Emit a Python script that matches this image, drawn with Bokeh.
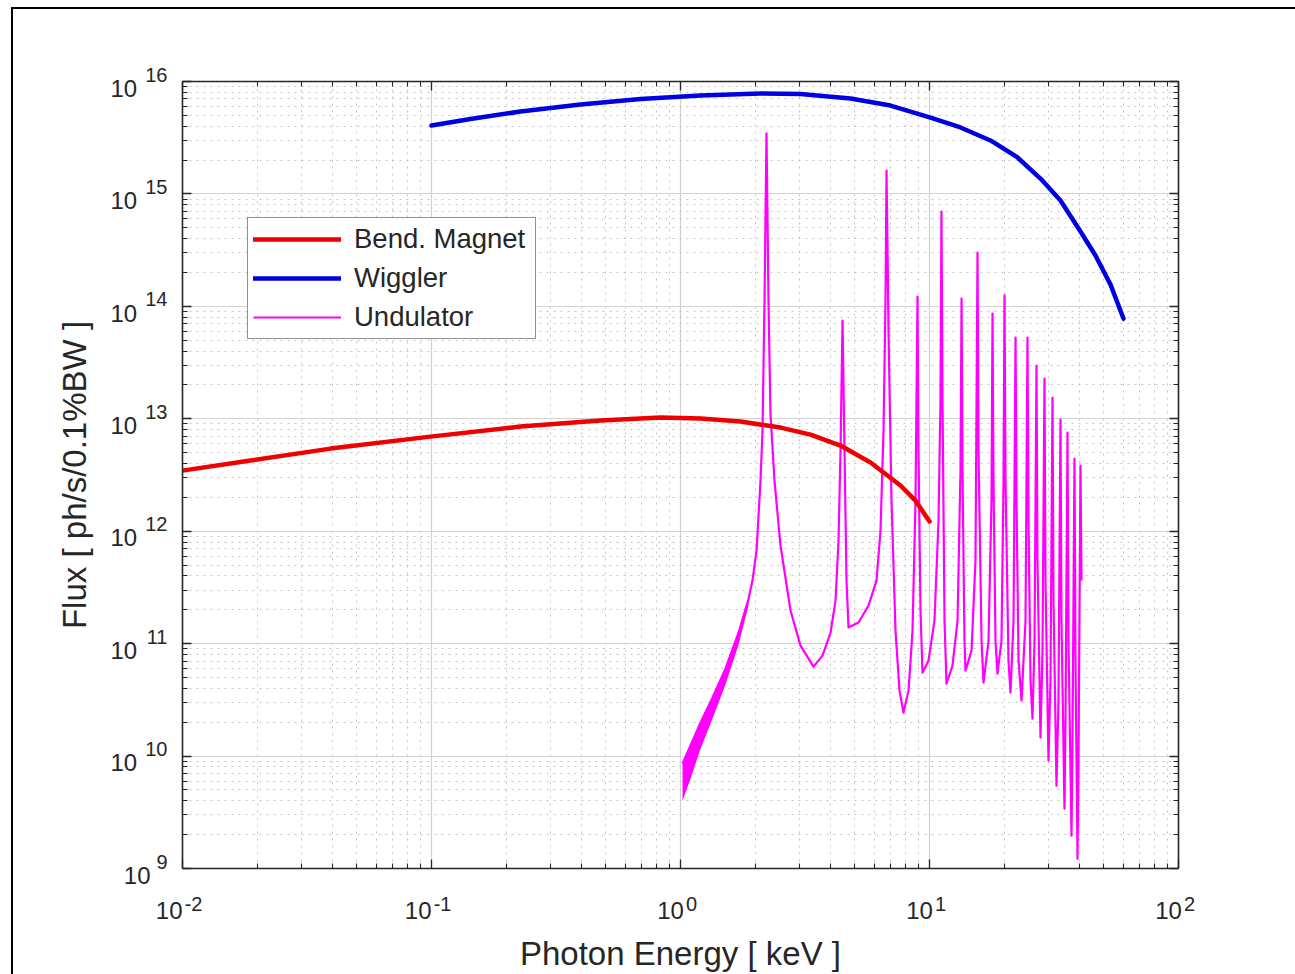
from bokeh.plotting import figure
from bokeh.models import (LogAxis, FixedTicker, Legend, LegendItem,
                          CustomJSTickFormatter)
from bokeh.embed import file_html
from bokeh.resources import INLINE

# ---------------- data ----------------
bm_energy = [0.01, 0.01875, 0.0393, 0.0991, 0.2277, 0.4772, 0.831, 1.203,
             1.742, 2.521, 3.328, 4.392, 5.794, 7.646, 8.786, 10.0]
bm_flux = [3.46e12, 4.25e12, 5.43e12, 6.94e12, 8.52e12, 9.64e12, 1.025e13,
           1.004e13, 9.44e12, 8.35e12, 7.23e12, 5.78e12, 4.08e12, 2.55e12,
           1.87e12, 1.22e12]

wig_energy = [0.1, 0.1434, 0.2277, 0.3967, 0.691, 1.203, 2.096, 3.033, 4.816,
              6.973, 10.09, 13.32, 17.58, 22.57, 27.91, 33.58, 40.40, 46.41,
              53.33, 60.13]
wig_flux = [4.06e15, 4.64e15, 5.41e15, 6.24e15, 6.99e15, 7.51e15, 7.82e15,
            7.74e15, 7.06e15, 6.11e15, 4.78e15, 3.90e15, 2.99e15, 2.11e15,
            1.37e15, 8.74e14, 4.63e14, 2.83e14, 1.56e14, 7.79e13]

und_energy = [1.019, 1.097, 1.203, 1.344, 1.516, 1.710, 1.876, 1.946, 2.020,
              2.096, 2.135, 2.175, 2.215, 2.256, 2.298, 2.385, 2.521, 2.766,
              3.033, 3.421, 3.718, 4.004, 4.194, 4.311, 4.392, 4.474, 4.557,
              4.642, 4.729, 5.186, 5.689, 6.126, 6.357, 6.536, 6.658, 6.720,
              6.845, 7.038, 7.303, 7.578, 7.864, 8.236, 8.546, 8.786, 8.950,
              9.033, 9.201, 9.374, 9.908, 10.47, 10.87, 11.07, 11.17, 11.28,
              11.49, 11.70, 12.37, 12.96, 13.32, 13.45, 13.57, 13.82, 13.95,
              14.75, 15.30, 15.59, 15.73, 16.18, 16.48, 17.26, 17.74, 17.91,
              18.07, 18.41, 18.75, 19.46, 19.83, 20.01, 20.20, 20.76, 21.15,
              21.75, 22.16, 22.36, 22.78, 23.42, 24.30, 24.75, 24.98, 25.45,
              25.92, 26.41, 26.90, 27.14, 27.91, 28.43, 28.96, 29.23, 30.05,
              30.61, 31.19, 31.48, 32.36, 32.96, 33.58, 33.89, 34.84, 35.17,
              35.83, 36.16, 37.18, 37.52, 38.22, 38.58, 39.30, 39.66, 40.40,
              40.78]
und_flux = [8.56e9, 1.24e10, 1.98e10, 3.31e10, 5.99e10, 1.25e11, 2.51e11,
            3.64e11, 6.72e11, 2.82e12, 7.85e12, 1.13e14, 3.45e15, 1.13e14,
            1.11e13, 2.82e12, 7.44e11, 1.97e11, 9.60e10, 6.24e10, 7.82e10,
            1.25e11, 2.41e11, 8.25e11, 5.21e12, 7.47e13, 5.21e12, 3.64e11,
            1.39e11, 1.54e11, 2.18e11, 3.64e11, 1.01e12, 7.85e12, 1.13e14,
            1.61e15, 6.09e13, 1.87e12, 1.30e11, 3.82e10, 2.43e10, 3.82e10,
            1.30e11, 1.87e12, 1.22e14, 5.21e12, 1.97e11, 5.52e10, 7.06e10,
            1.60e11, 1.24e12, 1.45e13, 6.97e14, 1.45e13, 1.60e11, 4.41e10,
            6.37e10, 1.60e11, 3.46e12, 1.17e14, 3.46e12, 1.06e11, 5.75e10,
            8.66e10, 5.48e11, 3.01e14, 5.21e12, 1.06e11, 4.50e10, 1.06e11,
            1.87e12, 8.63e13, 2.82e12, 1.06e11, 5.41e10, 1.06e11, 2.82e12,
            1.25e14, 2.82e12, 7.06e10, 3.66e10, 1.60e11, 5.28e13, 1.87e12,
            7.06e10, 3.11e10, 1.60e11, 5.28e13, 1.24e12, 4.69e10, 2.15e10,
            1.06e11, 2.97e13, 5.48e11, 1.46e10, 8.66e10, 2.28e13, 3.64e11,
            9.10e9, 4.69e10, 1.54e13, 2.41e11, 5.45e9, 3.11e10, 9.83e12,
            1.60e11, 3.40e9, 2.06e10, 7.54e12, 1.06e11, 1.96e9, 1.37e10,
            4.42e12, 7.06e10, 1.22e9, 9.10e9, 3.83e12, 3.64e11]

# fast-oscillation band at the start of the undulator curve
und_band_energy = [1.019, 1.097, 1.203, 1.344, 1.516, 1.710, 1.876]
und_band_upper = [8.56e9, 1.24e10, 1.98e10, 3.31e10, 5.99e10, 1.25e11, 2.51e11]
und_band_lower = [4.01e9, 6.29e9, 1.16e10, 2.15e10, 4.32e10, 9.80e10, 2.18e11]

x_tick_exponents = [-2, -1, 0, 1, 2]
y_tick_exponents = [9, 10, 11, 12, 13, 14, 15, 16]
tick_base_text = "10"
x_tick_exp_text = ["-2", "-1", "0", "1", "2"]
y_tick_exp_text = ["9", "10", "11", "12", "13", "14", "15", "16"]
series_names = ["Bend. Magnet", "Wiggler", "Undulator"]
x_title = "Photon Energy [ keV ]"
y_title = "Flux [ ph/s/0.1%BW ]"

# ---------------- styling ----------------
FONT = "Liberation Sans"
TXT = "#262626"
RED = "#ee0000"
BLUE = "#0000e0"
MAG = "#ff00ff"
NB = "\u00a0"   # non-breaking space used only as horizontal padding

p = figure(width=1282, height=965, x_axis_type="log", y_axis_type="log",
           x_range=(1e-2, 1e2), y_range=(1e9, 1e16),
           output_backend="svg", toolbar_location=None,
           min_border_left=169, min_border_right=117,
           min_border_top=72, min_border_bottom=106)
p.margin = (9, 0, 0, 13)
p.styles = {"outline": "2px solid black"}
p.outline_line_color = None
p.background_fill_color = "white"
p.border_fill_color = "white"

# box axes (top/right) and second "label" axes (exponent / base)
p.add_layout(LogAxis(), "above")
p.add_layout(LogAxis(), "right")
p.add_layout(LogAxis(), "below")
p.add_layout(LogAxis(), "left")

x_major = [10.0 ** k for k in x_tick_exponents]
x_minor = [m * 10.0 ** k for k in x_tick_exponents[:-1] for m in range(2, 10)]
y_major = [10.0 ** k for k in y_tick_exponents]
y_minor = [m * 10.0 ** k for k in y_tick_exponents[:-1] for m in range(2, 10)]

blank = CustomJSTickFormatter(code="return ''")
fmt_code = "const e = Math.round(Math.log10(tick)); return labels[e - emin];"


def fmt(labels, emin):
    return CustomJSTickFormatter(args=dict(labels=labels, emin=emin), code=fmt_code)


for axes, maj, mnr in ((p.xaxis, x_major, x_minor), (p.yaxis, y_major, y_minor)):
    for ax in axes:
        ax.ticker = FixedTicker(ticks=maj, minor_ticks=mnr)
        ax.formatter = blank
        ax.major_label_text_font_size = "0px"
        ax.major_label_standoff = 0
        ax.major_tick_in = 9
        ax.major_tick_out = 0
        ax.minor_tick_in = 5
        ax.minor_tick_out = 0
        ax.major_tick_line_color = TXT
        ax.minor_tick_line_color = TXT
        ax.major_tick_line_width = 1.3
        ax.minor_tick_line_width = 1.1
        ax.axis_line_color = TXT
        ax.axis_line_width = 1.6
        ax.major_label_text_font = FONT
        ax.major_label_text_color = TXT

for g in (p.xgrid, p.ygrid):
    g.grid_line_color = "#d2d2d2"
    g.grid_line_width = 1.2
    g.minor_grid_line_color = "#c4c4c4"
    g.minor_grid_line_dash = "2 5"
    g.minor_grid_line_width = 1.0


def label_only(ax):
    ax.axis_line_color = None
    ax.major_tick_line_color = None
    ax.minor_tick_line_color = None
    ax.major_tick_in = 0
    ax.minor_tick_in = 0


# ---- x axis: "10" on the frame axis, raised exponent on the second axis ----
xa, xb = p.below[0], p.below[1]
xa.formatter = fmt([tick_base_text + NB * (4 if k < 0 else 3) for k in x_tick_exponents],
                   x_tick_exponents[0])
xa.major_label_text_font_size = "24px"
xa.major_label_standoff = 28
label_only(xb)
xb.formatter = fmt([NB * 4 + s for s in x_tick_exp_text], x_tick_exponents[0])
xb.major_label_text_font_size = "20px"
xb.major_label_standoff = -34
xb.axis_label = x_title
xb.axis_label_text_font = FONT
xb.axis_label_text_font_size = "33px"
xb.axis_label_text_font_style = "normal"
xb.axis_label_text_color = TXT
xb.axis_label_standoff = 17

# ---- y axis: exponent (raised) next to the frame, "10" (lowered) outside ----
ya, yb = p.left[0], p.left[1]
ya.formatter = fmt([s + "\n" for s in y_tick_exp_text], y_tick_exponents[0])
ya.major_label_text_font_size = "20px"
ya.major_label_text_line_height = 0.63
ya.major_label_standoff = 15
label_only(yb)
yb.formatter = fmt(["\n" + tick_base_text + (NB * 2 if len(s) > 1 else "")
                    for s in y_tick_exp_text], y_tick_exponents[0])
yb.major_label_text_font_size = "24px"
yb.major_label_text_line_height = 0.5
yb.major_label_standoff = -8
yb.axis_label = y_title
yb.axis_label_text_font = FONT
yb.axis_label_text_font_size = "33px"
yb.axis_label_text_font_style = "normal"
yb.axis_label_text_color = TXT
yb.axis_label_standoff = 14

# ---------------- curves ----------------
p.varea(x=und_band_energy, y1=und_band_lower, y2=und_band_upper,
        fill_color=MAG, fill_alpha=1.0)
r_und = p.line(und_energy, und_flux, line_color=MAG, line_width=2.2,
               line_join="round")
r_bm = p.line(bm_energy, bm_flux, line_color=RED, line_width=4.5,
              line_join="round", line_cap="round")
r_wig = p.line(wig_energy, wig_flux, line_color=BLUE, line_width=4.5,
               line_join="round", line_cap="round")

legend = Legend(items=[LegendItem(label=series_names[0], renderers=[r_bm]),
                       LegendItem(label=series_names[1], renderers=[r_wig]),
                       LegendItem(label=series_names[2], renderers=[r_und])],
                location=(65, 529), orientation="vertical",
                glyph_width=88, glyph_height=26, label_height=26,
                label_width=176, label_standoff=13, spacing=7, padding=5,
                margin=0, border_line_color=TXT, border_line_width=1.5,
                background_fill_color="white", background_fill_alpha=1.0,
                label_text_font=FONT, label_text_font_size="27.5px",
                label_text_color=TXT)
p.add_layout(legend)

open("out.html", "w").write(file_html(p, INLINE))
